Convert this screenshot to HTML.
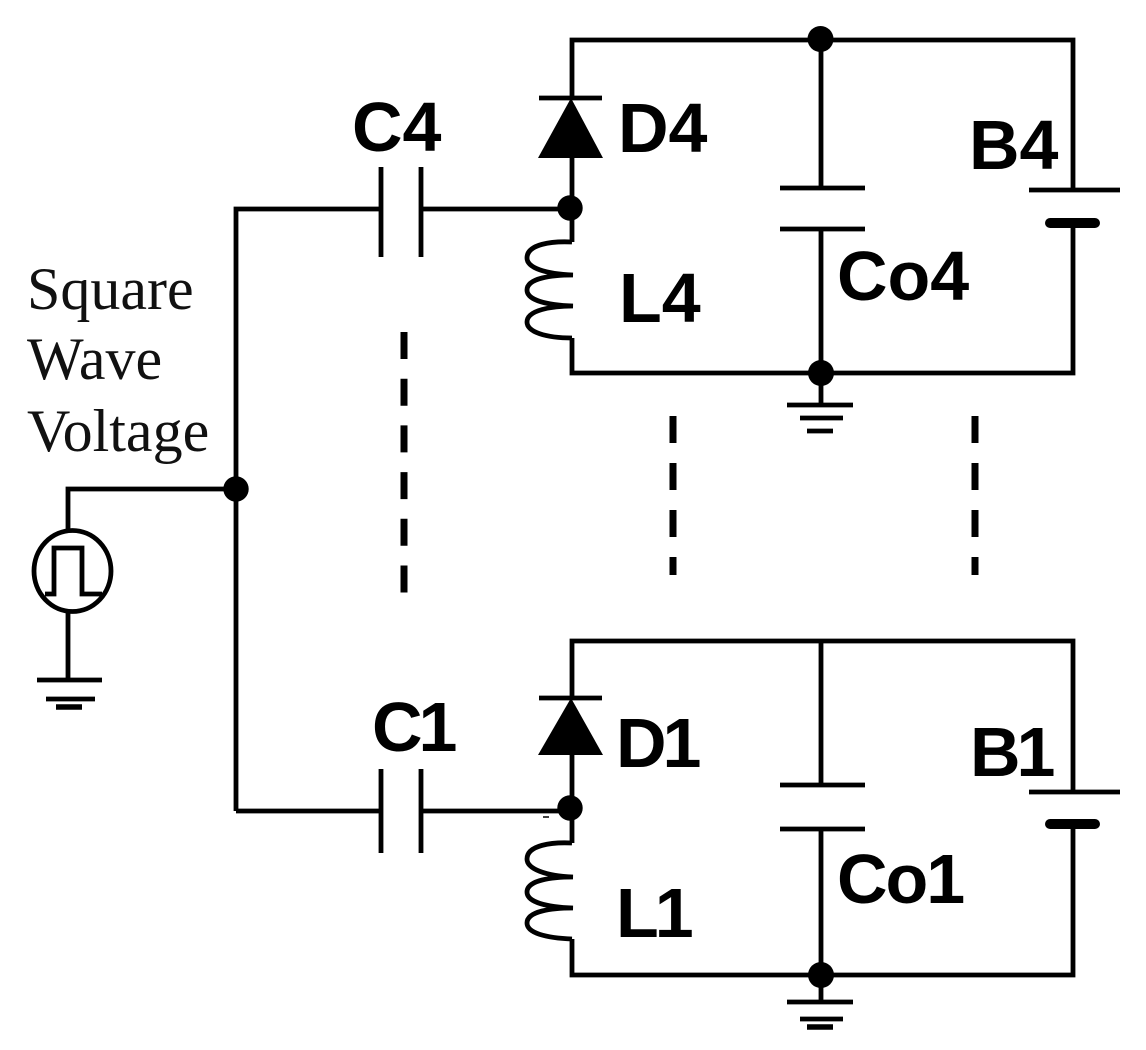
<!DOCTYPE html>
<html><head><meta charset="utf-8"><style>
html,body{margin:0;padding:0;background:#fff;width:1146px;height:1050px;overflow:hidden}
svg{display:block}
.b{font-family:"Liberation Sans",sans-serif;font-weight:bold;font-size:70px;fill:#000}
.o{letter-spacing:-4px}
.p{letter-spacing:-2px}
.s{font-family:"Liberation Serif",serif;font-size:60px;fill:#111}
</style></head><body>
<svg width="1146" height="1050" viewBox="0 0 1146 1050" xmlns="http://www.w3.org/2000/svg">
<g fill="none" stroke="#000" stroke-width="4.8">
<!-- top loop -->
<path d="M572 98V40H1073V190M1073 223V373H572V338"/>
<path d="M821 40V188M821 229V405"/>
<path d="M780 188H865M780 229H865"/>
<path d="M1029 190H1120"/>
<path d="M1050 223H1095" stroke-width="10" stroke-linecap="round"/>
<!-- D4 -->
<path d="M539 98H602"/>
<path d="M572 158V242"/>
<path d="M572 242C552 241 527 244 527 258C527 268 546 274 573 275C552 275 527 278 527 290C527 300 546 305 573 306C552 306 527 310 527 322C527 332 546 338 572 338"/>
<!-- C4 -->
<path d="M236 811V209H381M421 209H570"/>
<path d="M381 167V257M421 167V257"/>
<!-- ground top -->
<path d="M787 405H853"/><path d="M800 418H843"/><path d="M807 431H833"/>
<!-- dashes -->
<path d="M404 332V593" stroke-dasharray="27 19.7" stroke-width="7"/>
<path d="M673 416V575" stroke-dasharray="27 20" stroke-width="7"/>
<path d="M975 416V575" stroke-dasharray="27 20" stroke-width="7"/>
<!-- source -->
<path d="M236 489H68V530M68 612V680"/>
<ellipse cx="72.5" cy="571" rx="38.5" ry="40.5"/>
<path d="M45 594H54V548H82V594H102"/>
<path d="M37 680H102"/><path d="M46 699H95"/><path d="M56 707H82" stroke-width="5.5"/>
<!-- bottom loop -->
<path d="M572 698V641H1073V792M1073 824V975H572V939"/>
<path d="M821 641V785M821 829V1002"/>
<path d="M780 785H865M780 829H865"/>
<path d="M1029 792H1120"/>
<path d="M1050 824H1095" stroke-width="10" stroke-linecap="round"/>
<path d="M539 698H602"/>
<path d="M572 755V843"/>
<path d="M572 843C552 842 527 845 527 859C527 869 546 876 573 877C552 877 527 880 527 892C527 902 546 907 573 908C552 908 527 911 527 923C527 933 546 938 572 939"/>
<path d="M236 811H381M421 811H570"/>
<path d="M381 769V853M421 769V853"/>
<path d="M787 1002H853"/><path d="M800 1019H843"/><path d="M807 1027H833" stroke-width="5.5"/>
<path d="M543 817H549" stroke-width="1.5"/>
</g>
<g fill="#000">
<polygon points="571,98 603,158 538,158"/>
<polygon points="571,698 603,755 538,755"/>
<circle cx="820.5" cy="39" r="13"/><circle cx="570" cy="208" r="12.7"/><circle cx="821" cy="373" r="13"/>
<circle cx="236" cy="489" r="12.7"/><circle cx="570" cy="808" r="12.7"/><circle cx="821" cy="975" r="13"/>
</g>
<text class="b" x="352" y="151">C4</text>
<text class="b" x="618" y="152">D4</text>
<text class="b" x="969" y="169">B4</text>
<text class="b" x="619" y="322">L4</text>
<text class="b" x="837" y="300">Co4</text>
<text class="b o" x="372" y="751">C1</text>
<text class="b o" x="616" y="767">D1</text>
<text class="b o" x="970" y="776">B1</text>
<text class="b o" x="616" y="937">L1</text>
<text class="b p" x="837" y="903">Co1</text>
<text class="s" x="27" y="309">Square</text>
<text class="s" x="27" y="379">Wave</text>
<text class="s" x="27" y="451">Voltage</text>
</svg>
</body></html>
